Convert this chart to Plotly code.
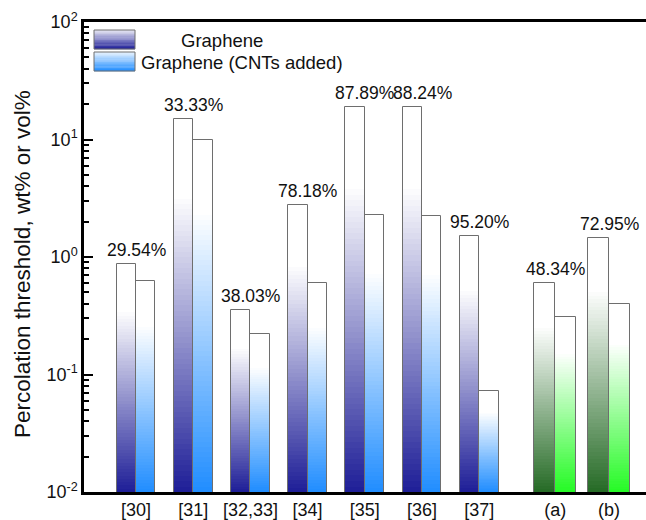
import plotly.graph_objects as go
import numpy as np

# ---------------- data ----------------
categories = ["[30]", "[31]", "[32,33]", "[34]", "[35]", "[36]", "[37]", "(a)", "(b)"]
group_pos = [0, 1, 2, 3, 4, 5, 6, 7.33, 8.27]
graphene = [0.88, 15.0, 0.355, 2.75, 19.0, 19.0, 1.50, 0.60, 1.46]
graphene_cnt = [0.62, 10.0, 0.22, 0.60, 2.30, 2.235, 0.072, 0.31, 0.395]
reduction_labels = ["29.54%", "33.33%", "38.03%", "78.18%", "87.89%", "88.24%", "95.20%", "48.34%", "72.95%"]
is_green = [False] * 7 + [True, True]
y_tickvals = [0.01, 0.1, 1, 10, 100]
y_ticktext = ["10<sup>-2</sup>", "10<sup>-1</sup>", "10<sup>0</sup>", "10<sup>1</sup>", "10<sup>2</sup>"]

# ---------------- style ----------------
FONT = "Arial, Liberation Sans, sans-serif"
YMIN_LOG, YMAX_LOG = -2, 2
BLUE_DARK = (28, 28, 150)
BLUE_LIGHT = (30, 140, 255)
GREEN_DARK = (35, 105, 35)
GREEN_LIGHT = (35, 250, 35)
WHITE = (255, 255, 255)
NSTEP = 70
W_BLUE, W_GREEN = 0.34, 0.37


def grad_color(base, t):
    # t = 0 at the top of the bar, 1 at the bottom
    f = max(0.0, (t - 0.2) / 0.8)
    c = [WHITE[i] * (1 - f) + base[i] * f for i in range(3)]
    return "rgb(%d,%d,%d)" % tuple(int(round(v)) for v in c)


def gradient_trace(values, side, name):
    xs, ys, cols, offs, wids = [], [], [], [], []
    for gi, v in enumerate(values):
        w = W_GREEN if is_green[gi] else W_BLUE
        if side == 0:
            base = GREEN_DARK if is_green[gi] else BLUE_DARK
        else:
            base = GREEN_LIGHT if is_green[gi] else BLUE_LIGHT
        top = np.log10(v)
        for k in range(NSTEP):
            frac = 1 - k / NSTEP
            h = YMIN_LOG + (top - YMIN_LOG) * frac
            t = k / NSTEP
            xs.append(group_pos[gi])
            ys.append(10 ** h)
            cols.append(grad_color(base, t))
            offs.append(-w if side == 0 else 0)
            wids.append(w)
    return go.Bar(x=xs, y=ys, offset=offs, width=wids,
                  marker=dict(color=cols, line=dict(width=0)),
                  showlegend=False, hoverinfo="skip", name=name)


def outline_trace(values, side):
    w = [W_GREEN if g else W_BLUE for g in is_green]
    return go.Bar(x=group_pos, y=values, width=w,
                  offset=[-ww if side == 0 else 0 for ww in w],
                  marker=dict(color="rgba(0,0,0,0)", line=dict(color="#6e6e6e", width=1)),
                  showlegend=False, hoverinfo="skip")


fig = go.Figure()
fig.add_trace(gradient_trace(graphene, 0, "Graphene"))
fig.add_trace(gradient_trace(graphene_cnt, 1, "Graphene (CNTs added)"))
fig.add_trace(outline_trace(graphene, 0))
fig.add_trace(outline_trace(graphene_cnt, 1))

for gi, lab in enumerate(reduction_labels):
    fig.add_annotation(x=group_pos[gi], y=np.log10(graphene[gi]), text=lab,
                       showarrow=False, yanchor="bottom", yshift=2,
                       font=dict(family=FONT, size=17.5, color="#111"))

# ---------------- legend (gradient swatches) ----------------
PX_L, PX_R, PX_T, PX_B = 84, 646, 22, 492


def px2paper(x, y):
    return (x - PX_L) / (PX_R - PX_L), (PX_B - y) / (PX_B - PX_T)


legend_items = [("Graphene", BLUE_DARK, 30, 49), ("Graphene (CNTs added)", BLUE_LIGHT, 52, 71)]
NS = 16
for li, (txt, col, y0, y1) in enumerate(legend_items):
    for k in range(NS):
        ya = y0 + (y1 - y0) * k / NS
        yb = y0 + (y1 - y0) * (k + 1) / NS + 0.3
        t = (k + 0.5) / NS
        f = 0.1 + 0.9 * t
        c = [WHITE[i] * (1 - f) + col[i] * f for i in range(3)]
        xa, yA = px2paper(94, ya)
        xb, yB = px2paper(135, yb)
        fig.add_shape(type="rect", xref="paper", yref="paper", x0=xa, x1=xb, y0=yB, y1=yA,
                      line=dict(width=0), fillcolor="rgb(%d,%d,%d)" % tuple(int(v) for v in c))
    xa, yA = px2paper(94, y0)
    xb, yB = px2paper(135, y1)
    fig.add_shape(type="rect", xref="paper", yref="paper", x0=xa, x1=xb, y0=yB, y1=yA,
                  line=dict(width=1, color="#6e6e6e"), fillcolor="rgba(0,0,0,0)")

ax, ay = px2paper(222, 40)
fig.add_annotation(xref="paper", yref="paper", x=ax, y=ay, text="Graphene", showarrow=False,
                   xanchor="center", yanchor="middle", font=dict(family=FONT, size=18.5, color="#111"))
ax, ay = px2paper(139, 62)
fig.add_annotation(xref="paper", yref="paper", x=ax, y=ay, text="Graphene (CNTs added)", showarrow=False,
                   xanchor="left", yanchor="middle", font=dict(family=FONT, size=18.5, color="#111"))

# y-axis title as rotated annotation
ax, ay = px2paper(22, 264)
fig.add_annotation(xref="paper", yref="paper", x=ax, y=ay, text="Percolation threshold, wt% or vol%",
                   textangle=-90, showarrow=False, xanchor="center", yanchor="middle",
                   font=dict(family=FONT, size=22.5, color="#111"))

# ---------------- axes ----------------
unit_px = 57.2
x0 = -(136 - PX_L) / unit_px
x1 = x0 + (PX_R - PX_L) / unit_px

fig.update_layout(
    width=646, height=520,
    margin=dict(l=PX_L, r=646 - PX_R, t=PX_T, b=520 - PX_B, autoexpand=False),
    plot_bgcolor="white", paper_bgcolor="white",
    barmode="overlay", bargap=0,
    font=dict(family=FONT, size=16, color="#111"),
    xaxis=dict(range=[x0, x1], tickvals=group_pos, ticktext=categories, automargin=False,
               showgrid=False, zeroline=False, ticks="",
               showline=True, linecolor="black", linewidth=2.5, mirror=True,
               tickfont=dict(family=FONT, size=18, color="#111")),
    yaxis=dict(type="log", range=[YMIN_LOG, YMAX_LOG], tickvals=y_tickvals, ticktext=y_ticktext,
               automargin=False, showgrid=False, zeroline=False,
               ticks="inside", ticklen=9, tickwidth=2, tickcolor="black",
               minor=dict(ticks="inside", ticklen=5, tickwidth=1.5, tickcolor="black", showgrid=False,
                          tickvals=[m * 10.0 ** e for e in range(-2, 2) for m in range(2, 10)]),
               showline=True, linecolor="black", linewidth=2.5, mirror=False,
               tickfont=dict(family=FONT, size=18, color="#111")),
)

fig.write_html("out.html", config={"displayModeBar": False},
               post_script="document.body.style.margin='0';document.body.style.overflow='hidden';")
